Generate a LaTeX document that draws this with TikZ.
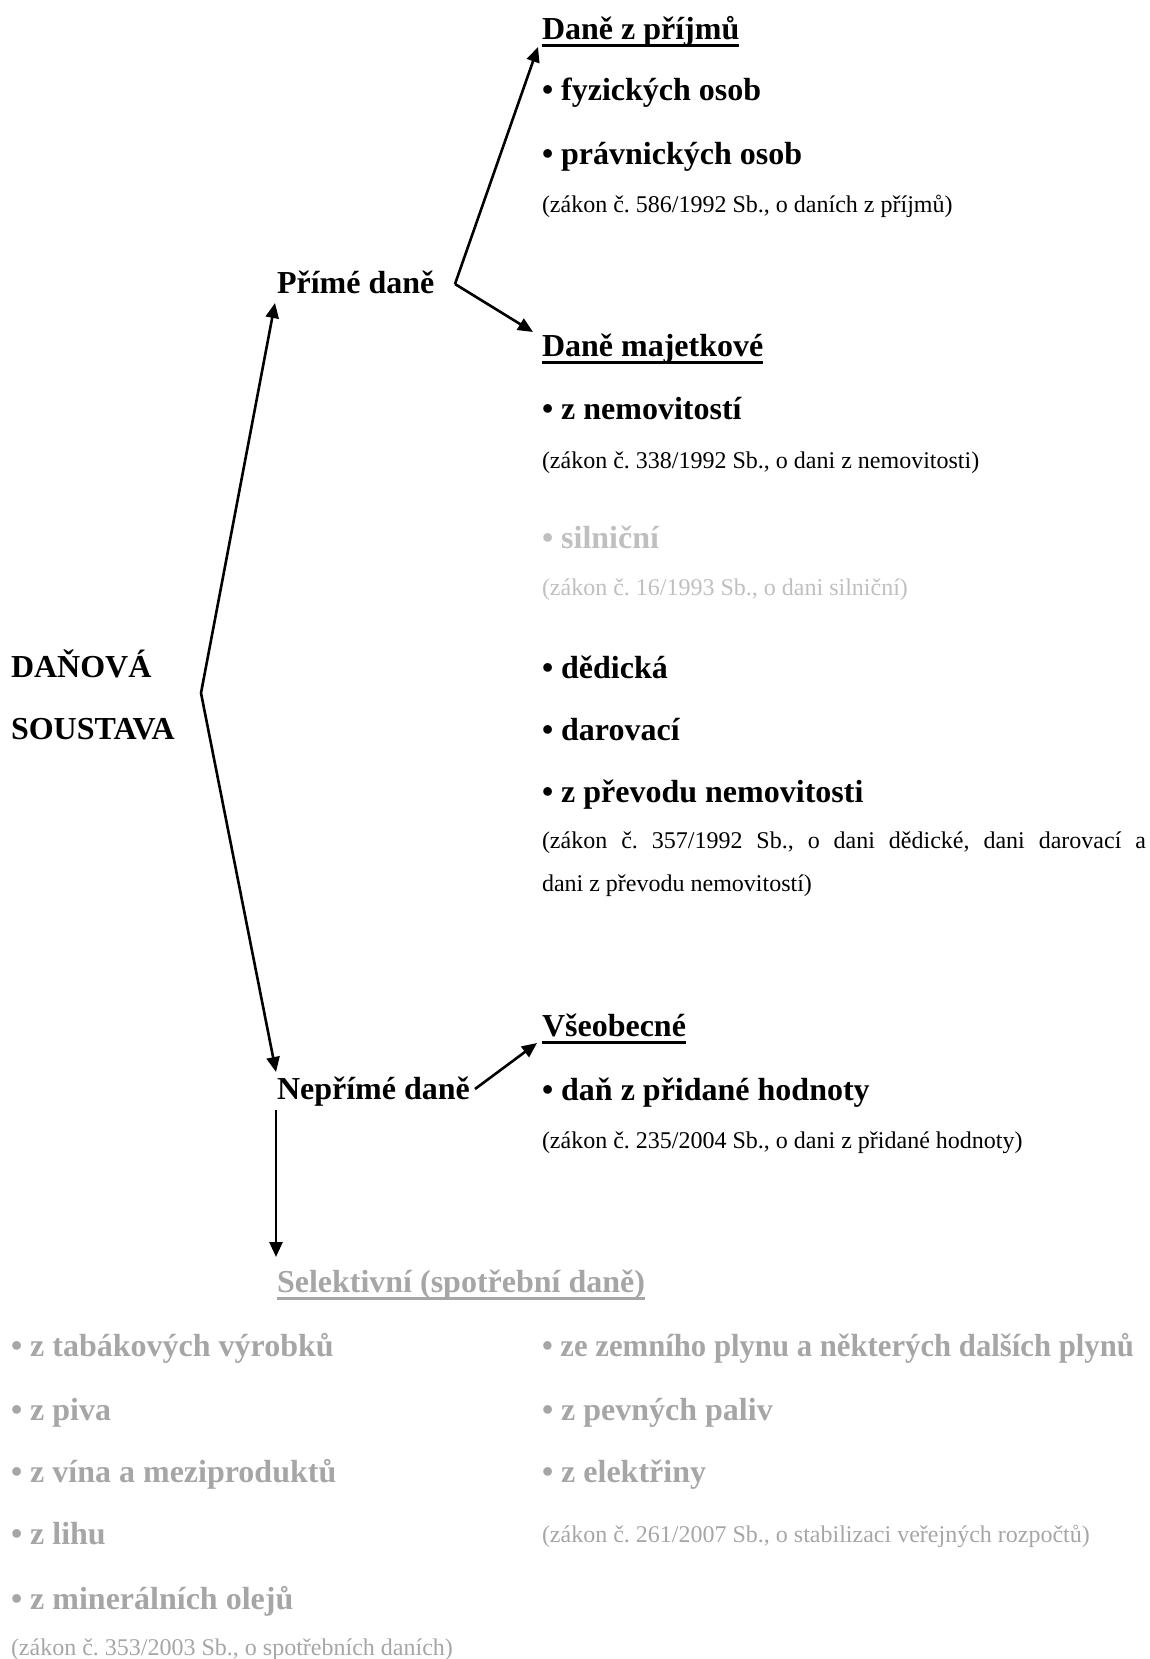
\documentclass[tikz,border=0pt]{standalone}
\usepackage{fontspec}
\setmainfont{Liberation Serif}
\usetikzlibrary{arrows.meta}
\definecolor{lgray}{HTML}{BFBFBF}
\definecolor{mgray}{HTML}{A6A6A6}
\begin{document}
\frenchspacing
\begin{tikzpicture}[x=0.5pt,y=-0.5pt,
 txt/.style={anchor=base west,inner sep=0pt,outer sep=0pt},
 big/.style={txt,font=\fontsize{16}{19}\selectfont\bfseries},
 small/.style={txt,font=\fontsize{12}{14}\selectfont},
 arr/.style={line width=1.3pt,-{Triangle[length=7.5pt,width=6.5pt]}},
 ul/.style={line width=1.5pt}]
\useasboundingbox (0,0) rectangle (1150,1659);

% left title
\node[big] (dan1) at (11,677) {DAŇOVÁ};
\node[big] (dan2) at (11,739) {SOUSTAVA};

% level 1
\node[big] (prime) at (277,293) {Přímé daně};
\node[big] (neprime) at (277,1099) {Nepřímé daně};

% income taxes
\node[big] (prijmy) at (542,40) {Daně z příjmů};
\node[big] (fyz) at (542,101) {• fyzických osob};
\node[big] (prav) at (542,164) {• právnických osob};
\node[small] (z586) at (542,212) {(zákon č. 586/1992 Sb., o daních z příjmů)};

% property taxes
\node[big] (majet) at (542,356) {Daně majetkové};
\node[big] (nemov) at (542,419) {• z nemovitostí};
\node[small] (z338) at (542,468) {(zákon č. 338/1992 Sb., o dani z nemovitosti)};
\node[big,text=lgray] (siln) at (542,548) {• silniční};
\node[small,text=lgray] (z16) at (542,595) {(zákon č. 16/1993 Sb., o dani silniční)};
\node[big] (dedic) at (542,678) {• dědická};
\node[big] (darov) at (542,740) {• darovací};
\node[big] (prevod) at (542,802) {• z převodu nemovitosti};
\node[small] (z357a) at (542,848) {\makebox[302pt][s]{(zákon č. 357/1992 Sb., o dani dědické, dani darovací a}};
\node[small] (z357b) at (542,891) {dani z převodu nemovitostí)};

% general
\node[big] (vseob) at (542,1036) {Všeobecné};
\node[big] (dph) at (542,1100) {• daň z přidané hodnoty};
\node[small] (z235) at (542,1148) {(zákon č. 235/2004 Sb., o dani z přidané hodnoty)};

% selective
\node[big,text=mgray] (selekt) at (277,1292) {Selektivní (spotřební daně)};
\node[big,text=mgray] (tabak) at (11,1356) {• z tabákových výrobků};
\node[big,text=mgray] (piva) at (11,1420) {• z piva};
\node[big,text=mgray] (vina) at (11,1482) {• z vína a meziproduktů};
\node[big,text=mgray] (lihu) at (11,1544) {• z lihu};
\node[big,text=mgray] (miner) at (11,1609) {• z minerálních olejů};
\node[small,text=mgray] (z353) at (11,1655) {(zákon č. 353/2003 Sb., o spotřebních daních)};
\node[big,text=mgray] (plyn) at (542,1356) {\scalebox{0.96}[1]{• ze zemního plynu a některých dalších plynů}};
\node[big,text=mgray] (paliv) at (542,1420) {• z pevných paliv};
\node[big,text=mgray] (elek) at (542,1482) {• z elektřiny};
\node[small,text=mgray] (z261) at (542,1542) {(zákon č. 261/2007 Sb., o stabilizaci veřejných rozpočtů)};

% underlines
\draw[ul] ([yshift=-3pt]prijmy.base west) -- ([yshift=-3pt]prijmy.base east);
\draw[ul] ([yshift=-3pt]majet.base west) -- ([yshift=-3pt]majet.base east);
\draw[ul] ([yshift=-3pt]vseob.base west) -- ([yshift=-3pt]vseob.base east);
\draw[ul,mgray] ([yshift=-3pt]selekt.base west) -- ([yshift=-3pt]selekt.base east);

% connector points
\coordinate (fork) at (201,693);
\coordinate (primetip) at (275,303);
\coordinate (neprimetip) at (276,1072);
\coordinate (pfork) at (455,284);
\coordinate (prijmytip) at (538,47);
\coordinate (majettip) at (533,332);
\coordinate (nfork) at (475,1089);
\coordinate (vseobtip) at (537,1043);
\coordinate (nbottom) at (276,1110);
\coordinate (selekttip) at (276,1257);

\draw[arr] (fork) -- (primetip);
\draw[arr] (fork) -- (neprimetip);
\draw[arr] (pfork) -- (prijmytip);
\draw[arr] (pfork) -- (majettip);
\draw[arr] (nfork) -- (vseobtip);
\draw[arr] (nbottom) -- (selekttip);
\end{tikzpicture}
\end{document}
